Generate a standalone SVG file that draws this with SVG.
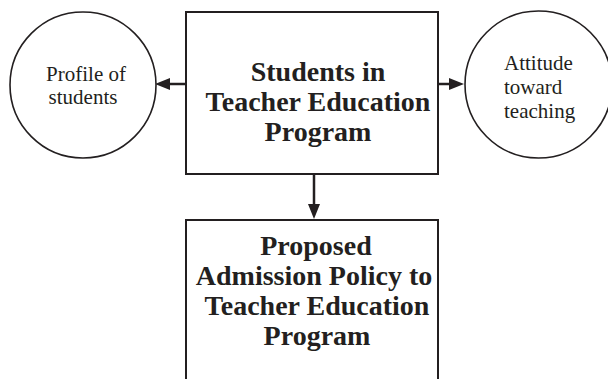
<svg xmlns="http://www.w3.org/2000/svg" width="608" height="379" viewBox="0 0 608 379">
  <style>
    .box { fill: #ffffff; stroke: #231f20; stroke-width: 2; }
    .circ { fill: #ffffff; stroke: #231f20; stroke-width: 1.6; }
    .conn { stroke: #231f20; stroke-width: 2.5; fill: none; }
    .head { font-family: "Liberation Serif", "Times New Roman", serif; font-weight: bold; font-size: 28px; fill: #231f20; text-anchor: middle; }
    .small { font-family: "Liberation Serif", "Times New Roman", serif; font-size: 21px; fill: #231f20; }
  </style>
  <defs>
    <marker id="arrow" viewBox="0 0 15 12" refX="0" refY="6" markerWidth="15" markerHeight="12" markerUnits="userSpaceOnUse" orient="auto">
      <path d="M0,0 L15,6 L0,12 Z" fill="#231f20"/>
    </marker>
  </defs>
  <rect width="608" height="379" fill="#ffffff"/>

  <g id="connectors">
    <line class="conn" x1="186" y1="84" x2="170" y2="84" marker-end="url(#arrow)"/>
    <line class="conn" x1="438" y1="84" x2="449" y2="84" marker-end="url(#arrow)"/>
    <line class="conn" x1="314" y1="174" x2="314" y2="204" marker-end="url(#arrow)"/>
  </g>

  <g id="profile">
    <circle class="circ" cx="83" cy="85" r="73"/>
    <text class="small" x="86" y="81" text-anchor="middle">Profile of</text>
    <text class="small" x="83" y="104" text-anchor="middle">students</text>
  </g>

  <g id="students">
    <rect class="box" x="186" y="12" width="252" height="162"/>
    <text class="head" x="318" y="81">Students in</text>
    <text class="head" x="318" y="111">Teacher Education</text>
    <text class="head" x="318" y="141">Program</text>
  </g>

  <g id="attitude">
    <circle class="circ" cx="538.5" cy="84.5" r="73.5"/>
    <text class="small" x="504" y="70">Attitude</text>
    <text class="small" x="504" y="94">toward</text>
    <text class="small" x="504" y="118">teaching</text>
  </g>

  <g id="policy">
    <rect class="box" x="186" y="220" width="252" height="170"/>
    <text class="head" x="316" y="255">Proposed</text>
    <text class="head" x="314" y="285">Admission Policy to</text>
    <text class="head" x="317" y="315">Teacher Education</text>
    <text class="head" x="317" y="345">Program</text>
  </g>
</svg>
